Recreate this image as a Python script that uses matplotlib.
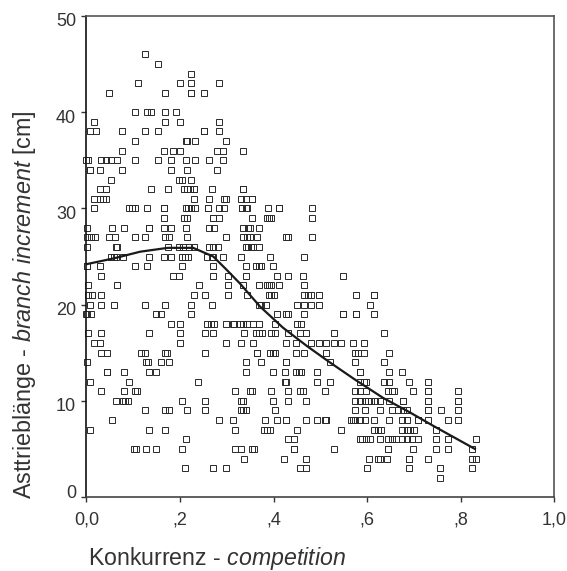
import matplotlib
matplotlib.use("Agg")
import matplotlib.pyplot as plt
import matplotlib.transforms as mtrans

plt.rcParams['font.family'] = ['Liberation Sans', 'DejaVu Sans']
plt.rcParams['mathtext.fontset'] = 'custom'
plt.rcParams['mathtext.rm'] = 'Liberation Sans'
plt.rcParams['mathtext.it'] = 'Liberation Sans:italic'

# competition values, one list per branch increment (cm)
x_46 = [.126]
x_45 = [.154]
x_44 = [.224]
x_43 = [.111, .200, .224, .283]
x_42 = [.048, .169, .224, .224, .251]
x_40 = [.103, .129, .137, .169, .192]
x_39 = [.016, .169, .200, .283]
x_38 = [.008, .020, .075, .126, .154, .251, .251, .283]
x_37 = [.103, .212, .216, .231, .299]
x_36 = [.075, .165, .184, .200, .278, .291, .334]
x_35 = [0, .004, .032, .041, .052, .052, .066, .103, .154, .180, .212, .231, .263, .291]
x_34 = [.008, .008, .028, .075, .180, .216, .278]
x_33 = [.052, .197, .204, .224]
x_32 = [.028, .041, .137, .174, .208, .214, .222, .229, .229, .268, .335, .335]
x_31 = [.016, .028, .035, .042, .229, .263, .293, .298, .330, .341, .353, .353]
x_30 = [.016, .092, .098, .104, .129, .165, .165, .212, .218, .224, .231, .260, .260,
        .283, .294, .332, .332, .341, .344, .388, .412, .412, .482]
x_29 = [.165, .208, .216, .270, .270, .283, .353, .385, .390, .395, .482]
x_28 = [.001, .055, .080, .134, .134, .165, .180, .212, .263, .273, .334, .346, .350, .368]
x_27 = [.001, .009, .019, .048, .062, .103, .126, .167, .177, .216, .299, .335, .343,
        .350, .365, .427, .431, .482]
x_26 = [.001, .063, .066, .174, .197, .207, .220, .229, .261, .271, .281, .341, .346,
        .351, .355, .368]
x_25 = [.052, .058, .063, .079, .134, .165, .180, .204, .211, .218, .257, .268, .270,
        .291, .331, .393, .466]
x_24 = [.001, .001, .028, .103, .129, .205, .271, .341, .362, .368, .374, .399]
x_23 = [.032, .184, .197, .271, .303, .341, .407, .431, .462, .549]
x_22 = [.004, .066, .240, .303, .335, .368, .385, .391, .395, .412, .466]
x_21 = [.004, .011, .032, .229, .254, .303, .343, .390, .395, .400, .466, .474, .479,
        .497, .576, .615, .615]
x_20 = [.008, .032, .060, .126, .169, .224, .268, .368, .374, .383, .451, .466, .479,
        .497, .607]
x_19 = [0, .001, .009, .149, .160, .224, .407, .426, .431, .466, .549, .549, .576, .576, .615]
x_18 = [.180, .200, .257, .266, .273, .299, .313, .316, .328, .335, .343, .355, .368,
        .403, .449, .459]
x_17 = [.004, .032, .134, .200, .254, .271, .337, .362, .368, .375, .395, .404, .431,
        .456, .470, .529, .635]
x_16 = [.016, .028, .200, .299, .331, .356, .427, .447, .479, .497, .512, .529, .545,
        .570, .593]
x_15 = [.032, .043, .117, .125, .169, .173, .254, .365, .365, .392, .398, .403, .447,
        .466, .513, .573, .580, .593, .647]
x_14 = [.001, .127, .132, .160, .177, .341, .374, .427, .427, .521, .573, .635]
x_13 = [.043, .043, .080, .134, .149, .341, .399, .424, .448, .454, .459, .493, .584,
        .584, .647, .675]
x_12 = [.008, .092, .239, .424, .427, .493, .521, .584, .593, .597, .635, .647, .689, .729]
x_11 = [.032, .080, .103, .108, .317, .350, .353, .395, .431, .456, .463, .510, .573,
        .584, .597, .645, .652, .657, .698, .729, .729, .795]
x_10 = [.063, .078, .083, .088, .205, .254, .330, .334, .335, .399, .431, .470, .573,
        .584, .595, .602, .609, .616, .627, .647, .677, .677, .729, .729, .795, .795]
x_9 = [.126, .169, .177, .216, .254, .330, .335, .340, .404, .573, .595, .627, .654,
       .666, .677, .684, .729, .729, .757, .795]
x_8 = [.055, .283, .314, .381, .407, .427, .427, .470, .493, .509, .513, .513, .566,
       .570, .573, .584, .595, .615, .647, .675, .684, .709, .709, .729, .772, .795]
x_7 = [.008, .134, .169, .317, .379, .385, .393, .450, .544, .615, .623, .630, .675,
       .684, .691, .699, .746]
x_6 = [.212, .431, .444, .584, .588, .598, .605, .627, .645, .654, .662, .675, .684,
       .695, .709, .746, .772, .832]
x_5 = [.102, .106, .128, .148, .205, .317, .330, .354, .358, .444, .444, .529, .645,
       .645, .698, .746, .772, .823]
x_4 = [.336, .423, .470, .603, .624, .627, .643, .689, .689, .729, .823, .832]
x_3 = [.211, .270, .298, .457, .470, .600, .689, .756, .823]
x_2 = [.756]

increment = [46, 45, 44, 43, 42, 40, 39, 38, 37, 36, 35, 34, 33, 32, 31, 30, 29, 28, 27, 26,
             25, 24, 23, 22, 21, 20, 19, 18, 17, 16, 15, 14, 13, 12, 11, 10, 9, 8, 7, 6, 5, 4, 3, 2]
competition = [x_46, x_45, x_44, x_43, x_42, x_40, x_39, x_38, x_37, x_36, x_35, x_34, x_33,
               x_32, x_31, x_30, x_29, x_28, x_27, x_26, x_25, x_24, x_23, x_22, x_21, x_20,
               x_19, x_18, x_17, x_16, x_15, x_14, x_13, x_12, x_11, x_10, x_9, x_8, x_7,
               x_6, x_5, x_4, x_3, x_2]

# smoothed line
curve_x = [0, .058, .115, .174, .228, .271, .300, .328, .371, .420, .471, .520, .574, .634, .691, .741, .830]
curve_y = [24.2, 24.8, 25.5, 25.9, 25.9, 25.0, 23.6, 22.2, 19.8, 17.6, 15.7, 14.0, 12.2, 10.3, 8.8, 7.4, 5.0]

x_ticks = [0, .2, .4, .6, .8, 1.0]
x_labels = ['0,0', ',2', ',4', ',6', ',8', '1,0']
y_ticks = [0, 10, 20, 30, 40, 50]

W, H = 567, 571
fig = plt.figure(figsize=(W / 100, H / 100), dpi=100)
ax = fig.add_axes([86.4 / W, 1 - 497 / H, 468 / W, 481 / H])

for level, xs in zip(increment, competition):
    ax.plot(xs, [level] * len(xs), 's', ms=4.9, mfc='none', mec='#2a2a2a', mew=0.7, clip_on=False)
ax.plot(curve_x, curve_y, color='#1a1a1a', lw=1.6)

ax.set_xlim(0, 1)
ax.set_ylim(0, 50)
ax.set_xticks(x_ticks, x_labels)
ax.set_yticks(y_ticks)
ax.tick_params(labelsize=13, length=3.5, width=1, color='#333333', labelcolor='#333333')
ax.tick_params(axis='x', pad=7)
ax.tick_params(axis='y', pad=4)

# y labels sit 4 px under their ticks, the 0 about 6 px above
for lab, shift in zip(ax.get_yticklabels(), [6, -4, -4, -4, -4, -4]):
    lab.set_transform(lab.get_transform() + mtrans.ScaledTranslation(0, shift / 100, fig.dpi_scale_trans))

ax.spines['left'].set_color('#111111')
ax.spines['bottom'].set_color('#444444')
ax.spines['top'].set_color('#555555')
ax.spines['right'].set_color('#555555')
for s in ax.spines.values():
    s.set_linewidth(1.2)

fig.text(88 / W, 1 - 558 / H, 'Konkurrenz - $\\mathit{competition}$', fontsize=16.7,
         color='#333333', ha='left', va='center')
fig.text(25 / W, 1 - 305 / H, 'Asttriebl\u00e4nge - $\\mathit{branch\\ increment}$ [cm]', fontsize=16.8,
         color='#333333', rotation=90, ha='center', va='center')

fig.savefig('out.png', dpi=100)
